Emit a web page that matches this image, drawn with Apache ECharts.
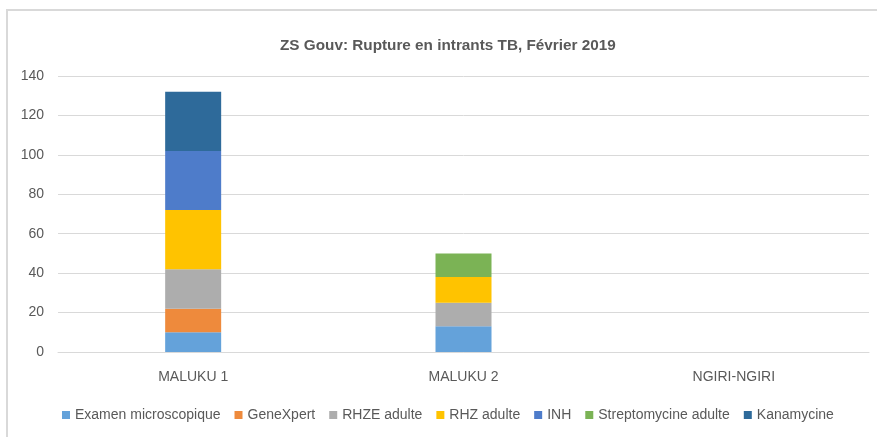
<!DOCTYPE html>
<html><head><meta charset="utf-8">
<script src="https://cdn.jsdelivr.net/npm/echarts@6/dist/echarts.min.js"></script>
<style>html,body{margin:0;padding:0;background:#fff}#c{width:877px;height:437px}</style>
</head><body><div id="c"></div>
<script>
const categories = ['MALUKU 1', 'MALUKU 2', 'NGIRI-NGIRI'];
const examenMicroscopique = [10, 13, 0];
const geneXpert = [12, 0, 0];
const rhzeAdulte = [20, 12, 0];
const rhzAdulte = [30, 13, 0];
const inh = [30, 0, 0];
const streptomycineAdulte = [0, 12, 0];
const kanamycine = [30, 0, 0];
const seriesNames = ['Examen microscopique','GeneXpert','RHZE adulte','RHZ adulte','INH','Streptomycine adulte','Kanamycine'];
const seriesData = [examenMicroscopique, geneXpert, rhzeAdulte, rhzAdulte, inh, streptomycineAdulte, kanamycine];
const colors = ['#64A2DA','#EE8A3C','#ADADAD','#FFC300','#4E7CCA','#7BB355','#2E6A9A'];
const yTicks = [0, 20, 40, 60, 80, 100, 120, 140];

const font = 'Liberation Sans, sans-serif';
const chart = echarts.init(document.getElementById('c'), null, {renderer:'canvas'});
chart.setOption({
  animation: false,
  color: colors,
  graphic: [{type:'rect', shape:{x:7, y:10, width:900, height:460}, style:{fill:'none', stroke:'#d9d9d9', lineWidth:2}, silent:true}],
  title: {text:'ZS Gouv: Rupture en intrants TB, Février 2019', left:275, top:33,
    textStyle:{fontFamily:font, fontSize:15.3, fontWeight:'bold', color:'#595959'}},
  legend: {bottom:10, left:57, itemWidth:8, itemHeight:8, itemGap:14, icon:'rect',
    data: seriesNames.map(n=>({name:n, itemStyle:{borderWidth:0}})),
    textStyle:{fontFamily:font, fontSize:14, color:'#595959'}},
  grid: {left:58, right:8, top:76, bottom:85, containLabel:false},
  xAxis: {type:'category', data:categories,
    axisLine:{lineStyle:{color:'#d9d9d9', width:1}}, axisTick:{show:false},
    axisLabel:{fontFamily:font, fontSize:14, color:'#595959', margin:18}},
  yAxis: {type:'value', min:yTicks[0], max:yTicks[yTicks.length-1], interval:20,
    axisLine:{show:false}, axisTick:{show:false},
    splitLine:{lineStyle:{color:'#d9d9d9'}},
    axisLabel:{fontFamily:font, fontSize:14, color:'#595959', margin:14}},
  series: seriesNames.map((n,i)=>({name:n, type:'bar', stack:'total', barWidth:56,
    data: seriesData[i].map(v=> v===0 ? null : v)}))
});
</script></body></html>
